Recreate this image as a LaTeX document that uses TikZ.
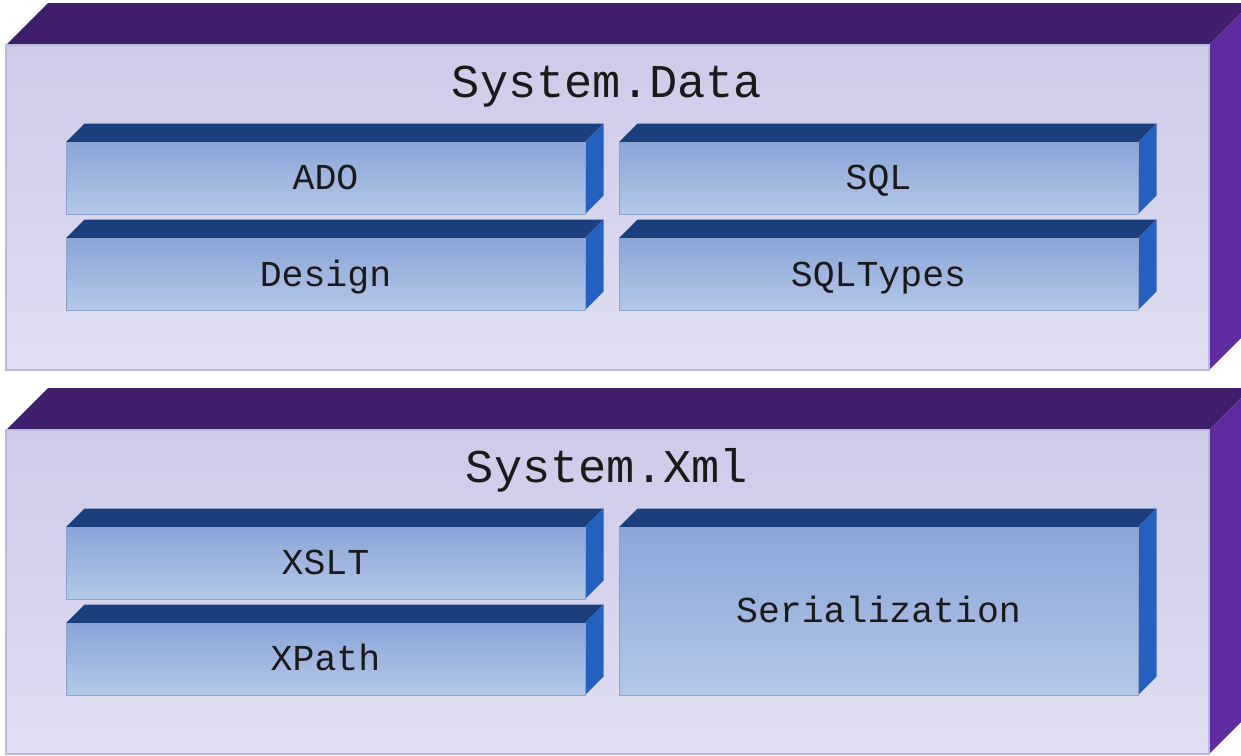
\documentclass[tikz,border=0pt]{standalone}
\usepackage{fontspec}
\setmonofont{Liberation Mono}
\definecolor{layerTop}{HTML}{3F1F6B}
\definecolor{layerSide}{HTML}{5F2CA0}
\definecolor{layerFaceA}{HTML}{CDCBE8}
\definecolor{layerFaceB}{HTML}{E0DEF1}
\definecolor{layerEdge}{HTML}{BBB8DA}
\definecolor{blockTop}{HTML}{1B3E7C}
\definecolor{blockSide}{HTML}{2560BE}
\definecolor{blockFaceA}{HTML}{8BA5D8}
\definecolor{blockFaceB}{HTML}{B4C7E8}
\definecolor{blockEdge}{HTML}{8EA2CC}
\definecolor{ink}{HTML}{1A1A1A}
\tikzset{
  layertop/.style={fill=layerTop},
  layerside/.style={fill=layerSide},
  layerfront/.style={draw=layerEdge, line width=1.2pt, top color=layerFaceA, bottom color=layerFaceB},
  blocktop/.style={fill=blockTop},
  blockside/.style={fill=blockSide},
  blockfront/.style={draw=blockEdge, line width=1pt, top color=blockFaceA, bottom color=blockFaceB},
  title/.style={font=\ttfamily\fontsize{47}{50}\selectfont, text=ink, inner sep=0pt, anchor=base},
  label/.style={font=\ttfamily\fontsize{36.5}{40}\selectfont, text=ink, inner sep=0pt, anchor=base},
}
% cuboid: left x, top y, right x, bottom y (front face), depth, style prefix
\newcommand\cuboid[6]{%
  \fill[#6top] (#1,#2) -- (#1+#5,#2-#5) -- (#3+#5,#2-#5) -- (#3,#2) -- cycle;
  \fill[#6side] (#3,#2) -- (#3+#5,#2-#5) -- (#3+#5,#4-#5) -- (#3,#4) -- cycle;
  \draw[#6front] (#1,#2) rectangle (#3,#4);
}
\begin{document}
\begin{tikzpicture}[x=1pt, y=-1pt]
  \useasboundingbox (0,0) rectangle (1241,755);
  \clip (0,0) rectangle (1241,755);

  % System.Data layer
  \cuboid{6}{45}{1209}{370}{42}{layer}
  \node[title] (data) at (607,97.5) {System.Data};
  \cuboid{66}{142}{585}{214}{18.5}{block}
  \node[label] (ado) at (325.5,189) {ADO};
  \cuboid{619}{142}{1138}{214}{18.5}{block}
  \node[label] (sql) at (878.5,189) {SQL};
  \cuboid{66}{238}{585}{310}{18.5}{block}
  \node[label] (design) at (325.5,286) {Design};
  \cuboid{619}{238}{1138}{310}{18.5}{block}
  \node[label] (sqltypes) at (878.5,286) {SQLTypes};

  % System.Xml layer
  \cuboid{6}{430}{1209}{754}{42}{layer}
  \node[title] (xml) at (607,482) {System.Xml};
  \cuboid{66}{527}{585}{599}{18.5}{block}
  \node[label] (xslt) at (325.5,574) {XSLT};
  \cuboid{66}{623}{585}{695}{18.5}{block}
  \node[label] (xpath) at (325.5,670) {XPath};
  \cuboid{619}{527}{1138}{695}{18.5}{block}
  \node[label] (serial) at (878.5,622) {Serialization};
\end{tikzpicture}
\end{document}
